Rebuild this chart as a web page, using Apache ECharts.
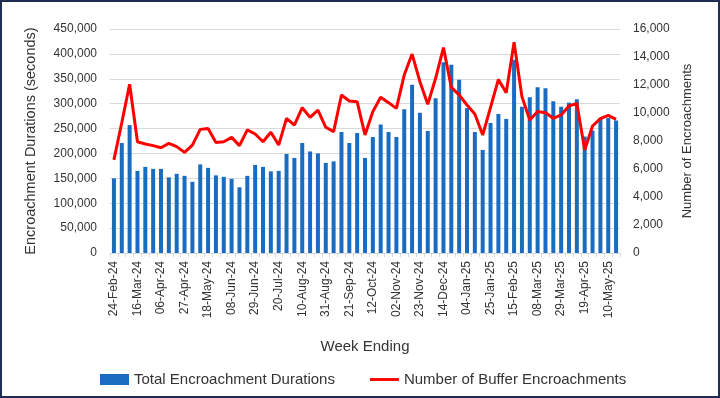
<!DOCTYPE html>
<html>
<head>
<meta charset="utf-8">
<script src="https://cdn.jsdelivr.net/npm/echarts@6/dist/echarts.min.js"></script>
<style>
  html, body { margin: 0; padding: 0; background: #fff; }
  #chart { width: 720px; height: 398px; }
</style>
</head>
<body>
<div id="chart"></div>
<script>
// week ending dates
var weeks = [
    '24-Feb-24', '02-Mar-24', '09-Mar-24', '16-Mar-24', '23-Mar-24', '30-Mar-24',
    '06-Apr-24', '13-Apr-24', '20-Apr-24', '27-Apr-24', '04-May-24', '11-May-24',
    '18-May-24', '25-May-24', '01-Jun-24', '08-Jun-24', '15-Jun-24', '22-Jun-24',
    '29-Jun-24', '06-Jul-24', '13-Jul-24', '20-Jul-24', '27-Jul-24', '03-Aug-24',
    '10-Aug-24', '17-Aug-24', '24-Aug-24', '31-Aug-24', '07-Sep-24', '14-Sep-24',
    '21-Sep-24', '28-Sep-24', '05-Oct-24', '12-Oct-24', '19-Oct-24', '26-Oct-24',
    '02-Nov-24', '09-Nov-24', '16-Nov-24', '23-Nov-24', '30-Nov-24', '07-Dec-24',
    '14-Dec-24', '21-Dec-24', '28-Dec-24', '04-Jan-25', '11-Jan-25', '18-Jan-25',
    '25-Jan-25', '01-Feb-25', '08-Feb-25', '15-Feb-25', '22-Feb-25', '01-Mar-25',
    '08-Mar-25', '15-Mar-25', '22-Mar-25', '29-Mar-25', '05-Apr-25', '12-Apr-25',
    '19-Apr-25', '26-Apr-25', '03-May-25', '10-May-25', '17-May-25'
];

// total encroachment durations (seconds)
var durations = [
    150000, 221000, 257000, 165000, 173000, 169000, 169000, 152000, 159000, 155000,
    143000, 178000, 171000, 156000, 153000, 149000, 132000, 155000, 177000, 173000,
    164000, 165000, 199000, 191000, 221000, 204000, 200000, 181000, 184000, 243000,
    221000, 241000, 191000, 233000, 258000, 243000, 233000, 289000, 338000, 282000,
    245000, 311000, 383000, 378000, 348000, 291000, 243000, 207000, 261000, 279000,
    269000, 388000, 294000, 313000, 333000, 331000, 305000, 294000, 302000, 309000,
    234000, 246000, 271000, 271000, 266000
];

// number of buffer encroachments
var counts = [
    6650, 9300, 12050, 7950, 7790, 7670, 7520, 7830, 7600, 7190,
    7710, 8830, 8900, 7900, 7950, 8260, 7670, 8790, 8500, 7950,
    8620, 7710, 9620, 9140, 10380, 9690, 10210, 8980, 8670, 11290,
    10860, 10810, 8430, 10100, 11120, 10740, 10330, 12710, 14210, 12240,
    10620, 12480, 14670, 11830, 11290, 10570, 9930, 8430, 10400, 12400,
    11450, 15050, 11170, 9500, 10100, 10020, 9620, 9860, 10500, 10690,
    7360, 9070, 9600, 9830, 9550
];

var txt = '#333333';
var fontFam = '"Liberation Sans", Arial, sans-serif';

function fmt(v) {
    return v.toLocaleString('en-US');
}

var chart = echarts.init(document.getElementById('chart'));
var option = {
    animation: false,
    backgroundColor: '#fff',
    textStyle: { fontFamily: fontFam, color: txt },
    graphic: [{
        type: 'rect',
        shape: { x: 1, y: 1, width: 718, height: 396 },
        style: { fill: 'none', stroke: '#1f2d52', lineWidth: 2 },
        silent: true
    }],
    grid: { left: 110, right: 100, top: 29, bottom: 145 },
    legend: {
        left: 95,
        top: 367,
        itemWidth: 29,
        itemHeight: 11,
        itemGap: 35,
        textStyle: { fontSize: 15, color: txt, fontFamily: fontFam },
        data: [
            { name: 'Total Encroachment Durations', icon: 'rect' },
            { name: 'Number of Buffer Encroachments', icon: 'path://M0,0 L30,0 L30,3 L0,3 Z' }
        ]
    },
    xAxis: {
        type: 'category',
        data: weeks,
        name: 'Week Ending',
        nameLocation: 'middle',
        nameGap: 86,
        nameTextStyle: { fontSize: 15, color: txt },
        axisLine: { lineStyle: { color: '#d9d9d9' } },
        axisTick: { show: true, interval: 0, length: 4, lineStyle: { color: '#d9d9d9' } },
        axisLabel: { interval: 2, rotate: 90, fontSize: 12, color: txt, margin: 8 }
    },
    yAxis: [{
        type: 'value',
        min: 0,
        max: 450000,
        interval: 50000,
        name: 'Encroachment Durations (seconds)',
        nameLocation: 'middle',
        nameGap: 72,
        nameTextStyle: { fontSize: 14.5, color: txt },
        axisLine: { show: false },
        axisTick: { show: false },
        axisLabel: { fontSize: 12, color: txt, margin: 13, formatter: fmt },
        splitLine: { lineStyle: { color: '#d9d9d9' } }
    }, {
        type: 'value',
        min: 0,
        max: 16000,
        interval: 2000,
        name: 'Number of Encroachments',
        nameLocation: 'middle',
        nameGap: 58,
        nameTextStyle: { fontSize: 13, color: txt },
        axisLine: { show: false },
        axisTick: { show: false },
        axisLabel: { fontSize: 12, color: txt, margin: 13, formatter: fmt },
        splitLine: { show: false }
    }],
    series: [{
        name: 'Total Encroachment Durations',
        type: 'bar',
        data: durations,
        barWidth: 4,
        itemStyle: { color: '#1a6cc0' }
    }, {
        name: 'Number of Buffer Encroachments',
        type: 'line',
        yAxisIndex: 1,
        data: counts,
        symbol: 'none',
        lineStyle: { color: '#ff0000', width: 3 },
        itemStyle: { color: '#ff0000' }
    }]
};
chart.setOption(option);
</script>
</body>
</html>
